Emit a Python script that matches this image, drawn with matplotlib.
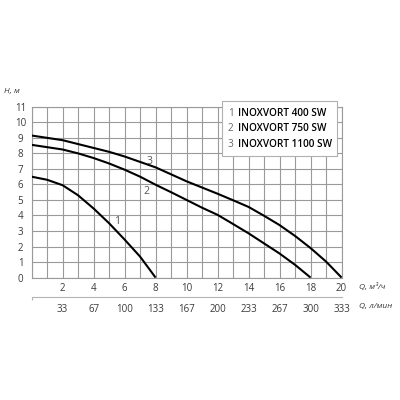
import numpy as np
import matplotlib.pyplot as plt
from matplotlib.patches import Rectangle

# Q, m3/h and H, m
q1 = np.arange(0, 9)
h1 = np.array([6.5, 6.3, 5.95, 5.3, 4.45, 3.5, 2.45, 1.35, 0.0])

q2 = np.arange(0, 19)
h2 = np.array([8.55, 8.4, 8.25, 8.0, 7.7, 7.35, 6.95, 6.5, 5.98, 5.5,
               5.0, 4.5, 4.04, 3.45, 2.85, 2.2, 1.55, 0.82, 0.0])

q3 = np.arange(0, 21)
h3 = np.array([9.15, 9.0, 8.85, 8.6, 8.35, 8.1, 7.8, 7.45, 7.1, 6.65,
               6.2, 5.8, 5.4, 4.98, 4.55, 3.98, 3.38, 2.68, 1.9, 1.03, 0.0])

models = ["INOXVORT 400 SW", "INOXVORT 750 SW", "INOXVORT 1100 SW"]
q_ticks = [2, 4, 6, 8, 10, 12, 14, 16, 18, 20]
lpm_labels = ["33", "67", "100", "133", "167", "200", "233", "267", "300", "333"]
h_ticks = list(range(0, 12))

plt.rcParams.update({
    "font.family": ["Open Sans", "DejaVu Sans"],
    "font.size": 7,
})

TXT = "#3a3a3a"
GRID = "#9a9a9a"

fig = plt.figure(figsize=(4, 4), dpi=100)
ax = fig.add_axes([0.079, 0.306, 0.775, 0.427])

for q, h in [(q1, h1), (q2, h2), (q3, h3)]:
    ax.plot(q, h, color="black", linewidth=1.5, solid_capstyle="butt",
            solid_joinstyle="round", zorder=3)

ax.set_xlim(0, 20)
ax.set_ylim(0, 11)
ax.set_xticks(np.arange(0, 21, 1))
ax.set_yticks(h_ticks)
ax.grid(True, color=GRID, linewidth=0.8)
for s in ax.spines.values():
    s.set_color(GRID)
    s.set_linewidth(0.8)

ax.set_xticklabels([str(v) if v in q_ticks else "" for v in range(0, 21)])
ax.tick_params(axis="x", length=0, pad=4, colors=TXT, labelsize=7)
ax.tick_params(axis="y", length=0, pad=8, colors=TXT, labelsize=7)
for lab in ax.get_yticklabels():
    lab.set_horizontalalignment("center")

# second scale in l/min
sec = ax.secondary_xaxis(-0.113, functions=(lambda x: x * 1000 / 60, lambda x: x * 60 / 1000))
sec.set_xticks([q * 1000 / 60 for q in q_ticks], labels=lpm_labels)
sec.set_xticks([0], minor=True)
sec.tick_params(length=0, pad=5, colors=TXT, labelsize=7)
sec.tick_params(which="minor", length=2.5, color="#b5b5b5", width=0.8)
sec.spines["bottom"].set_color("#b5b5b5")
sec.spines["bottom"].set_linewidth(0.8)

# axis names
ax.text(-0.09, 1.09, "H, м", transform=ax.transAxes, fontsize=6, style="italic",
        color=TXT, ha="left", va="center")
ax.text(1.055, -0.054, "Q, м³/ч", transform=ax.transAxes, fontsize=6, style="italic",
        color=TXT, ha="left", va="center")
ax.text(1.055, -0.171, "Q, л/мин", transform=ax.transAxes, fontsize=6, style="italic",
        color=TXT, ha="left", va="center")

# curve numbers
for x, y, s in [(5.48, 3.6, "1"), (7.42, 5.55, "2"), (7.63, 7.48, "3")]:
    ax.text(x, y, s, fontsize=7.5, color="#555555", ha="center", va="center", zorder=4)

# legend box
ax.add_patch(Rectangle((12.26, 7.8), 7.46, 3.55, facecolor="white", edgecolor="#b0b0b0",
                       linewidth=0.8, clip_on=False, zorder=5))
for i, name in enumerate(models):
    y = 10.6 - i * 1.0
    ax.text(12.84, y, str(i + 1), fontsize=7.2, color="#666666", ha="center", va="center",
            zorder=6, clip_on=False)
    ax.text(13.3, y, name, fontsize=7.2, color="black", fontweight="semibold",
            ha="left", va="center", zorder=6, clip_on=False)

fig.savefig("out.png", dpi=100)
plt.close()
